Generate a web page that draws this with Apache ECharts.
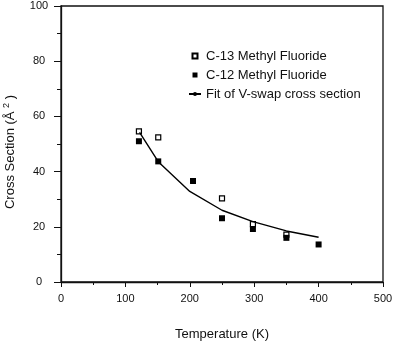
<!DOCTYPE html>
<html>
<head>
<meta charset="utf-8">
<script src="https://cdn.jsdelivr.net/npm/echarts@6/dist/echarts.min.js"></script>
<style>
  html, body { margin: 0; padding: 0; background: #fff; }
  #chart { width: 400px; height: 346px; }
</style>
</head>
<body>
<div id="chart"></div>
<script>
// Measured cross sections, [temperature K, cross section Å²]
const c13MethylFluoride = [[121, 54.6], [151, 52.4], [250, 30.3], [298, 21.0], [350, 17.2]];
const c12MethylFluoride = [[121, 51.0], [151, 43.7], [205, 36.6], [250, 23.1], [298, 19.2], [350, 16.0], [400, 13.6]];
// V-swap model fit
const vSwapFit = [[122, 54.2], [151, 43.6], [200, 32.8], [250, 26.0], [298, 21.9], [350, 18.5], [400, 16.2]];

const seriesNames = ['C-13 Methyl Fluoride', 'C-12 Methyl Fluoride', 'Fit of V-swap cross section'];
const xTicks = [0, 100, 200, 300, 400, 500];
const yTicks = [0, 20, 40, 60, 80, 100];

const FONT = 'Liberation Sans, Arial, Helvetica, sans-serif';
const INK = '#111';
const squarePath = 'path://M0,0h10v10h-10z';

const chart = echarts.init(document.getElementById('chart'), null, { renderer: 'canvas' });

chart.setOption({
  animation: false,
  backgroundColor: '#fff',
  grid: {
    left: 61, right: 17, top: 6, bottom: 61,
    show: true, borderColor: INK, borderWidth: 1.3, backgroundColor: 'transparent'
  },
  xAxis: {
    type: 'value',
    min: xTicks[0], max: xTicks[xTicks.length - 1], interval: 100,
    name: 'Temperature (K)',
    nameLocation: 'middle', nameGap: 46,
    nameTextStyle: { fontFamily: FONT, fontSize: 13, color: INK },
    axisLine: { show: true, onZero: false, lineStyle: { color: INK, width: 1.3 } },
    axisTick: { show: true, inside: false, length: 5, lineStyle: { color: INK, width: 1 } },
    minorTick: { show: true, splitNumber: 2, length: 3, lineStyle: { color: INK, width: 1 } },
    splitLine: { show: false },
    axisLabel: { fontFamily: FONT, fontSize: 11, color: INK, margin: 11 }
  },
  yAxis: {
    type: 'value',
    min: yTicks[0], max: yTicks[yTicks.length - 1], interval: 20,
    axisLine: { show: true, onZero: false, lineStyle: { color: INK, width: 1.3 } },
    axisTick: { show: true, inside: false, length: 7, lineStyle: { color: INK, width: 1 } },
    minorTick: { show: true, splitNumber: 2, length: 4, lineStyle: { color: INK, width: 1 } },
    splitLine: { show: false },
    axisLabel: { fontFamily: FONT, fontSize: 11, color: INK, align: 'center', margin: 22 }
  },
  legend: {
    orient: 'vertical',
    left: 188, top: 49,
    padding: 0,
    itemWidth: 12, itemHeight: 5, itemGap: 5,
    textStyle: { fontFamily: FONT, fontSize: 13, color: INK, lineHeight: 14 },
    data: [
      { name: seriesNames[0], icon: squarePath },
      { name: seriesNames[1], icon: squarePath },
      { name: seriesNames[2] }
    ],
    symbolKeepAspect: true
  },
  graphic: [{
    type: 'text',
    x: 10, y: 152,
    rotation: Math.PI / 2,
    style: {
      text: 'Cross Section (Å {sup|2} )',
      font: '13px ' + FONT,
      fill: INK,
      align: 'center',
      verticalAlign: 'middle',
      rich: {
        sup: { fontSize: 9, fontFamily: FONT, fill: INK, verticalAlign: 'top', padding: [0, 0, 6, 0] }
      }
    }
  }],
  series: [
    {
      name: seriesNames[0],
      type: 'scatter',
      symbol: 'rect',
      symbolSize: 5,
      data: c13MethylFluoride,
      itemStyle: { color: '#fff', borderColor: '#000', borderWidth: 1.2, opacity: 1 },
      z: 2
    },
    {
      name: seriesNames[1],
      type: 'scatter',
      symbol: 'rect',
      symbolSize: 6,
      data: c12MethylFluoride,
      itemStyle: { color: '#000', opacity: 1 },
      z: 3
    },
    {
      name: seriesNames[2],
      type: 'line',
      symbol: 'none',
      data: vSwapFit,
      lineStyle: { color: '#000', width: 1.4 },
      itemStyle: { color: '#000' },
      z: 4
    }
  ]
});
</script>
</body>
</html>
